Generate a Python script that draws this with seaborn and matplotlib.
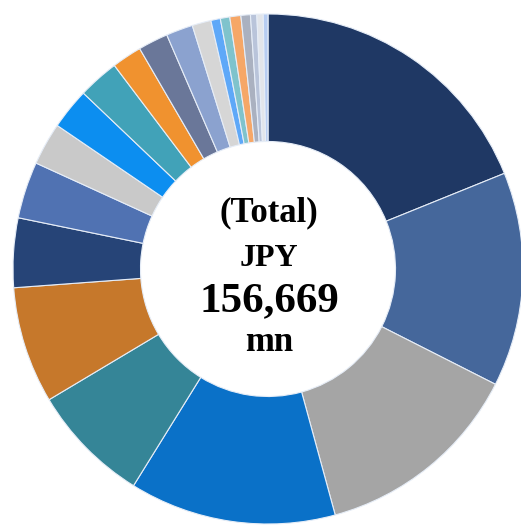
import numpy as np
import seaborn as sns
import matplotlib.pyplot as plt

# share of total (%), clockwise from 12 o'clock
shares = [18.9, 13.6, 13.3, 13.1, 7.6, 7.4, 4.4, 3.6, 2.7, 2.6, 2.6,
          1.9, 1.9, 1.7, 1.2, 0.6, 0.6, 0.7, 0.6, 0.4, 0.4, 0.3]
colors = ["#1f3864", "#45679b", "#a5a5a5", "#0a71c8", "#358597", "#c6782b",
          "#264477", "#5072b2", "#c9c9c9", "#0c8ef0", "#41a2b8", "#f0922f",
          "#6a7799", "#8ba2cf", "#d6d6d6", "#5ea8f8", "#7fc3cc", "#f6a767",
          "#aab1c0", "#b9c4da", "#e2e5ea", "#b7cdf2"]
center_lines = ["(Total)", "JPY", "156,669", "mn"]

sns.set_theme(style="white")
plt.rcParams['font.family'] = ['Liberation Serif', 'DejaVu Serif']

fig = plt.figure(figsize=(5.21, 5.27), dpi=100)
ax = fig.add_axes([0, 0, 1, 1])

pal = sns.color_palette(colors)
ax.pie(shares, colors=pal, startangle=90, counterclock=False,
       radius=1.0, wedgeprops=dict(width=0.5, edgecolor="#e6edf7", linewidth=0.8))

# pixel frame: centre at (268, 269), radius 255 px
s = 255.0
ax.set_aspect('auto')
ax.set_xlim(-268 / s, (521 - 268) / s)
ax.set_ylim(-(527 - 269) / s, 269 / s)
ax.axis('off')

def ypix(p):
    return (269 - p) / s

ax.text(0.004, ypix(221), center_lines[0], ha='center', va='baseline',
        fontsize=25, fontweight='bold', color='black')
ax.text(0.004, ypix(266), center_lines[1], ha='center', va='baseline',
        fontsize=23, fontweight='bold', color='black')
ax.text(0.004, ypix(311), center_lines[2], ha='center', va='baseline',
        fontsize=31, fontweight='bold', color='black')
ax.text(0.004, ypix(351), center_lines[3], ha='center', va='baseline',
        fontsize=25, fontweight='bold', color='black')

fig.savefig("out.png", dpi=100)
